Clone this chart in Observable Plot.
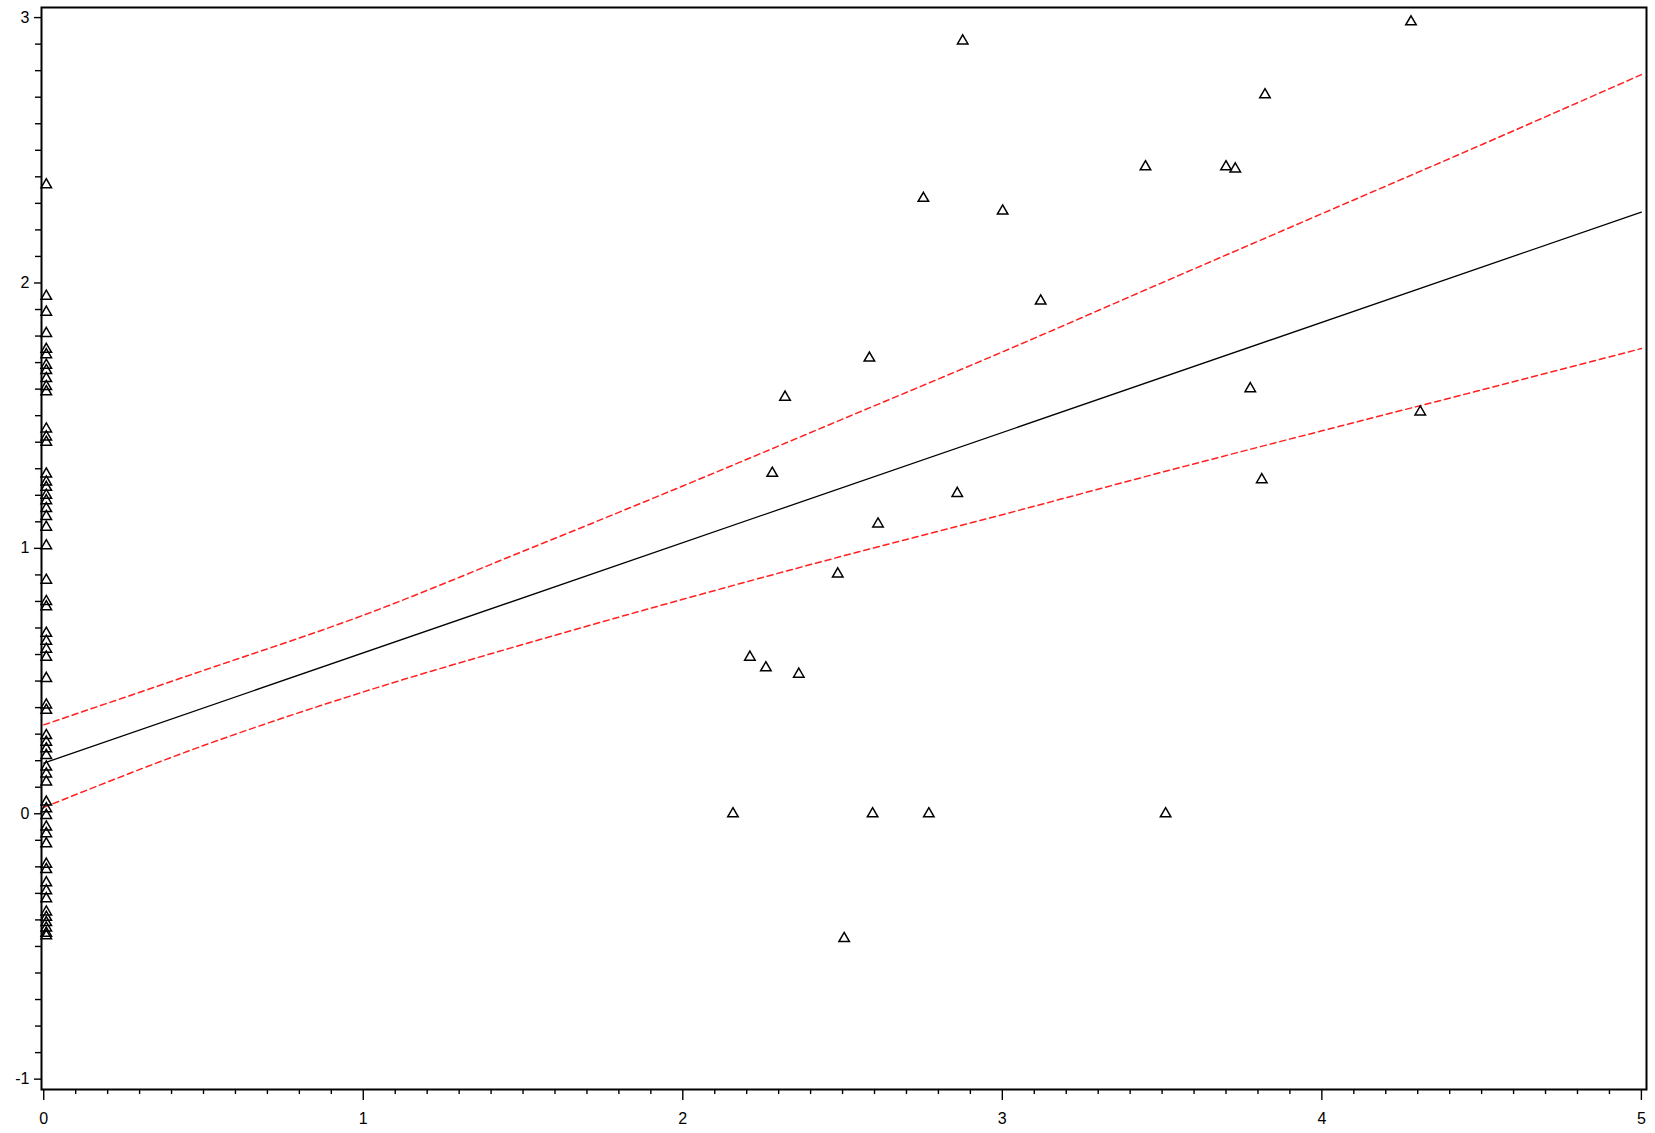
<!DOCTYPE html>
<html>
<head>
<meta charset="utf-8">
<script src="https://cdn.jsdelivr.net/npm/d3@7"></script>
<script src="https://cdn.jsdelivr.net/npm/@observablehq/plot@0.6"></script>
<style>
  html, body { margin: 0; padding: 0; background: #fff; }
  #chart svg { display: block; }
</style>
</head>
<body>
<div id="chart"></div>
<script>
// Observations stacked at x ≈ 0
const zeroGroupX = 0.008;
const zeroGroupY = [2.37,
  1.95, 1.89, 1.81, 1.75, 1.73, 1.69, 1.67, 1.64, 1.61, 1.59,
  1.45, 1.42, 1.40,
  1.28, 1.25, 1.23, 1.20, 1.18, 1.15, 1.12, 1.08,
  1.01, 0.88, 0.80, 0.78, 0.68, 0.65, 0.62, 0.59, 0.51, 0.41, 0.39,
  0.295, 0.27, 0.245, 0.22, 0.176, 0.15, 0.12, 0.044, 0.019, -0.006,
  -0.05, -0.075, -0.113, -0.19, -0.21, -0.26, -0.29, -0.32,
  -0.37, -0.39, -0.41, -0.43, -0.45, -0.46];

// Scattered observations
const scatterX = [4.279, 2.876, 3.822, 3.448, 3.700, 3.729, 2.753, 3.001, 3.120, 2.584,
  2.320, 3.776, 4.308, 2.280, 3.812, 2.859, 2.611, 2.485, 2.210, 2.260,
  2.363, 2.157, 2.594, 2.770, 3.511, 2.505];
const scatterY = [2.984, 2.912, 2.709, 2.438, 2.438, 2.430, 2.319, 2.271, 1.932, 1.717,
  1.570, 1.602, 1.514, 1.283, 1.259, 1.207, 1.092, 0.904, 0.590, 0.550,
  0.526, 0.0, 0.0, 0.0, 0.0, -0.470];

// Fitted line and confidence limits
const fitX = [0, 5];
const fitY = [0.191, 2.267];
const bandX = [0, 0.5, 1, 1.5, 2, 2.5, 3, 3.5, 4, 4.5, 5];
const upperY = [0.335, 0.540, 0.748, 0.989, 1.235, 1.487, 1.740, 2.001, 2.261, 2.521, 2.785];
const lowerY = [0.024, 0.257, 0.459, 0.638, 0.808, 0.971, 1.127, 1.287, 1.443, 1.597, 1.753];

// Ticks
const xMajor = [0, 1, 2, 3, 4, 5];
const yMajor = [-1, 0, 1, 2, 3];
const xMinor = d3.range(0, 51).map(i => i / 10).filter(v => !xMajor.includes(v));
const yMinor = d3.range(-10, 31).map(i => i / 10).filter(v => !yMajor.includes(v));

const points = [
  ...zeroGroupY.map(y => ({x: zeroGroupX, y})),
  ...scatterX.map((x, i) => ({x, y: scatterY[i]}))
];
const fit = fitX.map((x, i) => ({x, y: fitY[i]}));
const upper = bandX.map((x, i) => ({x, y: upperY[i]}));
const lower = bandX.map((x, i) => ({x, y: lowerY[i]}));

const chart = Plot.plot({
  width: 1655,
  height: 1133,
  marginLeft: 41,
  marginRight: 9,
  marginTop: 7,
  marginBottom: 44,
  style: {fontFamily: "Liberation Sans, Arial, sans-serif", fontSize: "16px", color: "#000", background: "#fff"},
  x: {domain: [-0.007, 5.016], label: null},
  y: {domain: [-1.039, 3.038], label: null},
  marks: [
    Plot.axisX({ticks: xMinor, tickSize: 5, tickFormat: () => "", strokeWidth: 1.4, label: null}),
    Plot.axisX({ticks: xMajor, tickSize: 11, tickPadding: 12, tickFormat: d => String(d), strokeWidth: 1.4, fontSize: 16, label: null}),
    Plot.axisY({ticks: yMinor, tickSize: 6, tickFormat: () => "", strokeWidth: 1.4, label: null}),
    Plot.axisY({ticks: yMajor, tickSize: 7, tickPadding: 5, tickFormat: d => String(d), strokeWidth: 1.4, fontSize: 16, label: null}),
    Plot.line(upper, {x: "x", y: "y", stroke: "#ff2020", strokeWidth: 1.5, strokeDasharray: "6,4", curve: "monotone-x"}),
    Plot.line(lower, {x: "x", y: "y", stroke: "#ff2020", strokeWidth: 1.5, strokeDasharray: "6,4", curve: "monotone-x"}),
    Plot.line(fit, {x: "x", y: "y", stroke: "#000", strokeWidth: 1.3}),
    Plot.dot(points, {x: "x", y: "y", symbol: "triangle", r: 3.9, stroke: "#000", fill: "none", strokeWidth: 1.5}),
    Plot.frame({stroke: "#000", strokeWidth: 2})
  ]
});
document.getElementById("chart").appendChild(chart);
</script>
</body>
</html>
